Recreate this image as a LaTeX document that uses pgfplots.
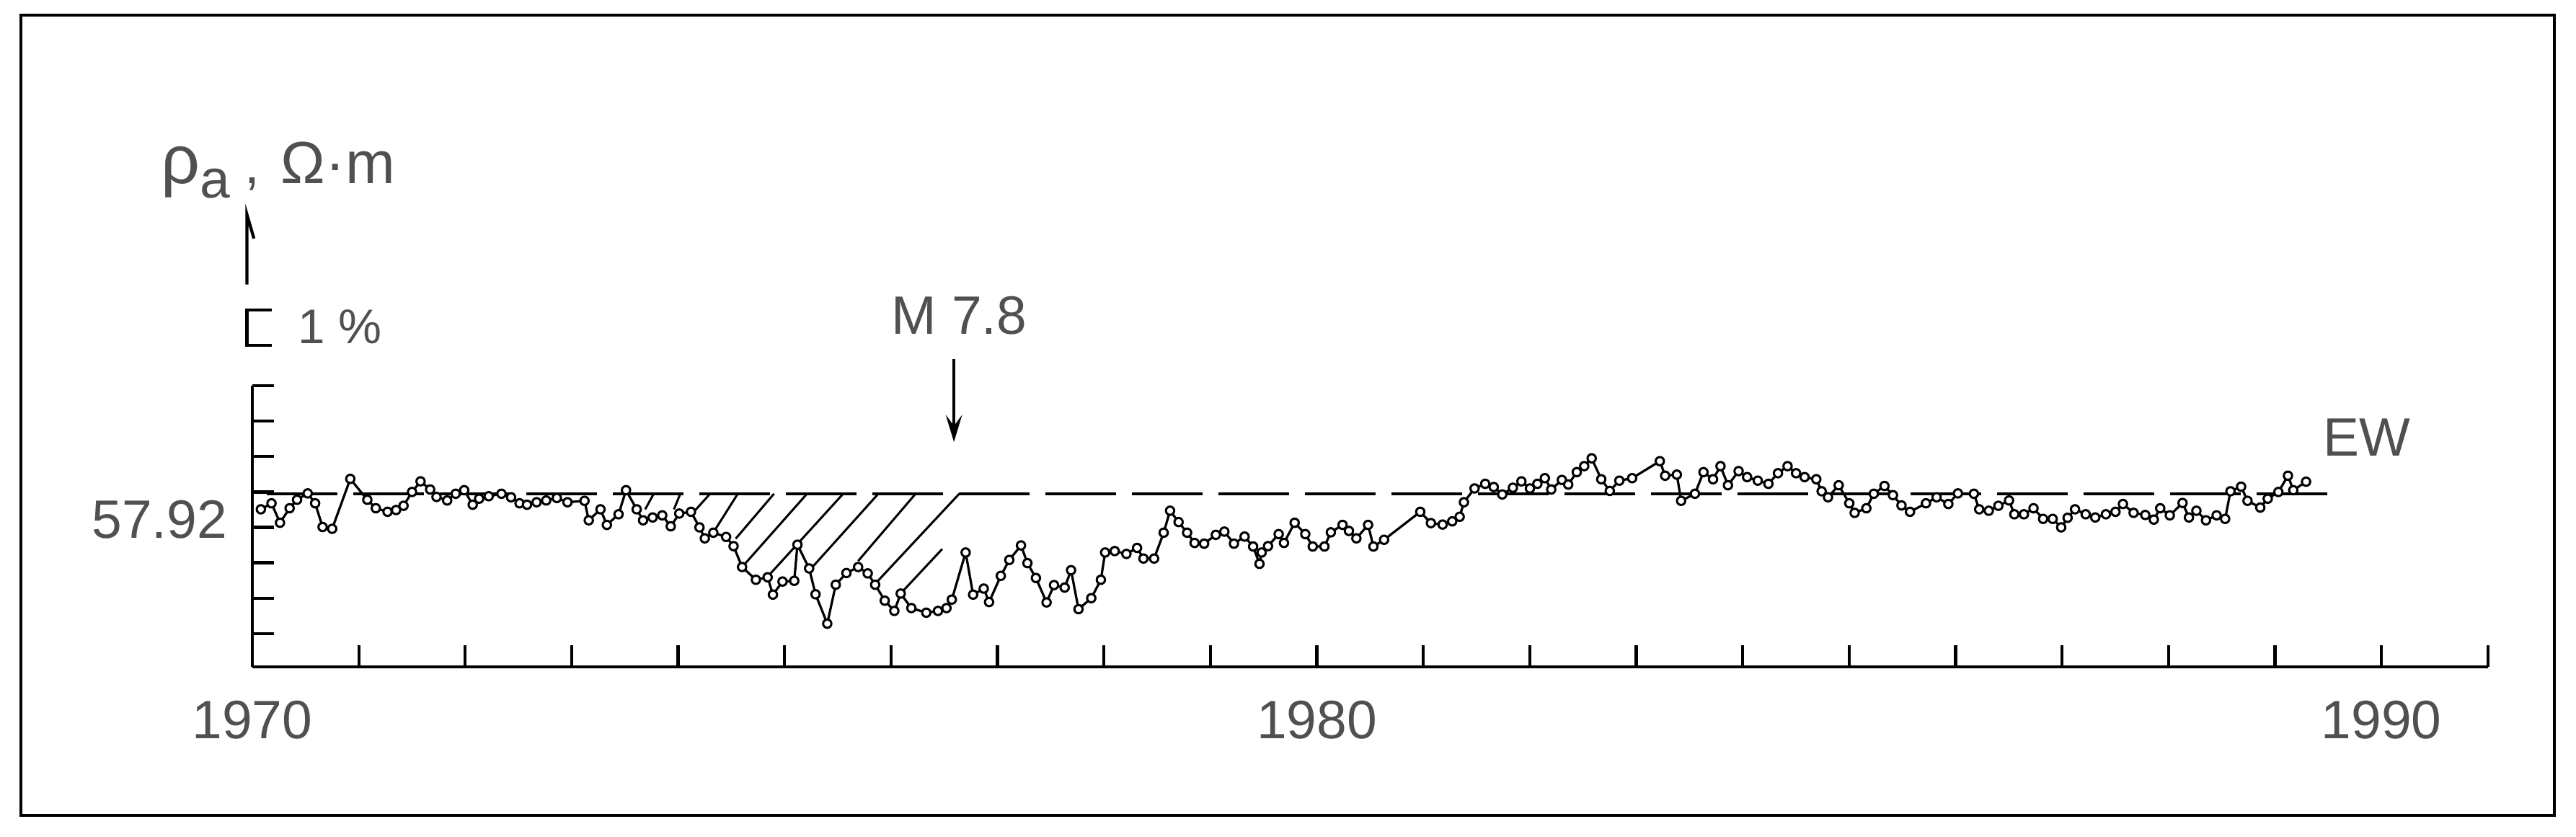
\documentclass[border=0pt]{standalone}
\usepackage{fontspec}
\setmainfont{Liberation Sans}
\usepackage{pgfplots}
\pgfplotsset{compat=1.18}
\usetikzlibrary{arrows.meta}
\definecolor{txt}{RGB}{80,80,80}

\pgfplotstableread{
year rho
1970.08 4.51
1970.18 4.68
1970.26 4.13
1970.35 4.54
1970.42 4.78
1970.52 4.96
1970.59 4.68
1970.66 4.01
1970.75 3.96
1970.92 5.37
1971.08 4.78
1971.16 4.54
1971.27 4.44
1971.35 4.49
1971.42 4.61
1971.50 5.00
1971.58 5.30
1971.67 5.07
1971.73 4.86
1971.83 4.76
1971.91 4.95
1971.99 5.05
1972.07 4.64
1972.13 4.81
1972.22 4.88
1972.34 4.95
1972.43 4.85
1972.51 4.68
1972.58 4.64
1972.67 4.71
1972.76 4.76
1972.86 4.83
1972.96 4.71
1973.12 4.75
1973.16 4.20
1973.27 4.51
1973.33 4.07
1973.44 4.37
1973.51 5.05
1973.61 4.51
1973.67 4.20
1973.76 4.28
1973.85 4.34
1973.93 4.03
1974.01 4.39
1974.12 4.44
1974.20 4.00
1974.25 3.69
1974.33 3.85
1974.45 3.73
1974.52 3.47
1974.60 2.88
1974.73 2.52
1974.84 2.59
1974.89 2.10
1974.98 2.47
1975.09 2.49
1975.12 3.51
1975.23 2.84
1975.29 2.11
1975.40 1.28
1975.48 2.38
1975.58 2.71
1975.69 2.88
1975.78 2.70
1975.85 2.38
1975.94 1.93
1976.03 1.64
1976.09 2.13
1976.19 1.72
1976.33 1.59
1976.44 1.64
1976.52 1.72
1976.57 1.96
1976.70 3.29
1976.77 2.10
1976.87 2.27
1976.92 1.89
1977.03 2.63
1977.11 3.08
1977.22 3.49
1977.28 2.99
1977.36 2.57
1977.46 1.88
1977.53 2.37
1977.63 2.30
1977.69 2.79
1977.76 1.69
1977.88 2.00
1977.97 2.52
1978.01 3.29
1978.10 3.33
1978.21 3.25
1978.31 3.42
1978.37 3.12
1978.47 3.12
1978.56 3.85
1978.62 4.47
1978.70 4.15
1978.78 3.85
1978.85 3.56
1978.94 3.54
1979.05 3.79
1979.13 3.88
1979.22 3.54
1979.32 3.74
1979.40 3.46
1979.46 2.97
1979.48 3.29
1979.54 3.47
1979.64 3.81
1979.69 3.56
1979.79 4.13
1979.89 3.81
1979.96 3.46
1980.07 3.46
1980.13 3.86
1980.24 4.07
1980.30 3.90
1980.37 3.69
1980.48 4.07
1980.53 3.46
1980.63 3.65
1980.97 4.44
1981.07 4.12
1981.18 4.08
1981.27 4.17
1981.34 4.30
1981.38 4.71
1981.48 5.10
1981.58 5.23
1981.66 5.14
1981.74 4.93
1981.84 5.12
1981.92 5.30
1982.00 5.10
1982.07 5.23
1982.14 5.39
1982.20 5.07
1982.30 5.34
1982.36 5.21
1982.44 5.56
1982.51 5.73
1982.58 5.95
1982.67 5.36
1982.75 5.03
1982.84 5.32
1982.96 5.39
1983.22 5.87
1983.27 5.46
1983.38 5.49
1983.42 4.75
1983.55 4.95
1983.63 5.56
1983.72 5.36
1983.79 5.73
1983.86 5.19
1983.96 5.59
1984.04 5.42
1984.14 5.32
1984.24 5.23
1984.33 5.53
1984.42 5.73
1984.50 5.53
1984.58 5.42
1984.69 5.36
1984.74 5.02
1984.80 4.85
1984.90 5.19
1985.00 4.68
1985.05 4.41
1985.16 4.54
1985.23 4.95
1985.33 5.17
1985.41 4.91
1985.49 4.62
1985.57 4.44
1985.72 4.68
1985.82 4.85
1985.93 4.66
1986.02 4.96
1986.17 4.95
1986.22 4.51
1986.31 4.47
1986.40 4.61
1986.50 4.76
1986.55 4.37
1986.64 4.37
1986.73 4.54
1986.82 4.24
1986.91 4.24
1986.99 4.00
1987.05 4.27
1987.12 4.51
1987.22 4.37
1987.31 4.28
1987.41 4.37
1987.50 4.44
1987.57 4.66
1987.67 4.41
1987.78 4.35
1987.86 4.22
1987.92 4.54
1988.01 4.34
1988.13 4.69
1988.19 4.28
1988.26 4.47
1988.35 4.20
1988.45 4.34
1988.53 4.24
1988.58 5.02
1988.68 5.15
1988.74 4.75
1988.86 4.56
1988.93 4.81
1989.03 5.00
1989.12 5.46
1989.17 5.05
1989.29 5.29
}\rhodata

\begin{document}
\begin{tikzpicture}[font=\fontsize{15}{18}\selectfont]
\useasboundingbox (-70pt,-47.2pt) rectangle (644.6pt,185pt);
\draw[line width=0.7pt] (-64.2pt,-41.2pt) rectangle (638.6pt,180.8pt);
\begin{axis}[
  at={(0pt,0pt)}, anchor=south west,
  x=29.534pt, y=9.82pt,
  xmin=1970, xmax=1991, ymin=0.06, ymax=8,
  axis lines*=left,
  axis line style={line width=0.85pt},
  tick align=inside,
  major tick length=6pt,
  tick style={line width=0.85pt, black},
  xtick={1970,...,1991},
  xticklabels={1970,,,,,,,,,,1980,,,,,,,,,,1990,},
  ytick={1,...,8},
  yticklabels={,,,57.92,,,,},
  xticklabel style={anchor=base, inner sep=0pt, yshift=-20pt, text=txt, font=\fontsize{15}{18}\selectfont},
  yticklabel style={anchor=base east, inner sep=0pt, xshift=-6.8pt, yshift=-3pt, text=txt, font=\fontsize{15}{18}\selectfont},
  clip=false,
]
% reference level
\addplot[black, line width=0.8pt, dash pattern=on 19.6pt off 4.4pt] coordinates {(1970.135,4.95) (1989.54,4.95)};
% hatching of the anomaly before the earthquake
\addplot[black, line width=0.6pt, unbounded coords=jump] coordinates {
(1973.69,4.51) (1973.77,4.95) (nan,nan)
(1973.96,4.51) (1974.02,4.95) (nan,nan)
(1974.15,4.45) (1974.30,4.95) (nan,nan)
(1974.35,3.95) (1974.56,4.95) (nan,nan)
(1974.54,3.68) (1974.90,4.95) (nan,nan)
(1974.63,2.98) (1975.21,4.95) (nan,nan)
(1974.85,2.64) (1975.55,4.95) (nan,nan)
(1975.27,2.91) (1975.88,4.95) (nan,nan)
(1975.69,3.05) (1976.23,4.95) (nan,nan)
(1975.87,2.47) (1976.64,4.95) (nan,nan)
(1976.12,2.23) (1976.48,3.39)
};
% apparent resistivity
\addplot[black, line width=0.65pt, mark=*, mark size=1.15pt,
  mark options={fill=white, draw=black, line width=0.6pt, solid}]
  table[x=year, y=rho] {\rhodata};

% earthquake arrow and label
\draw[black, line width=0.85pt, -{Stealth[length=7.5pt,width=4.5pt,inset=3pt]}]
  (axis cs:1976.59,8.75) -- (axis cs:1976.59,6.41);
\node[anchor=base, inner sep=0pt, text=txt] at (axis cs:1976.64,9.46) {M 7.8};
\node[anchor=base, inner sep=0pt, text=txt] at (axis cs:1989.86,6.01) {EW};

% y-axis scale bar and arrow
\draw[black, line width=0.85pt] (axis cs:1969.95,10.86) -- (axis cs:1969.95,12.83) -- (axis cs:1970.015,12.16);
\draw[black, line width=0.85pt] (axis cs:1970.18,10.14) -- (axis cs:1969.95,10.14) -- (axis cs:1969.95,9.14) -- (axis cs:1970.18,9.14);
\node[anchor=base west, inner sep=0pt, text=txt, font=\fontsize{13.5}{16}\selectfont] at (axis cs:1970.42,9.20) {1 \%};
\node[anchor=base west, inner sep=0pt, text=txt] at (axis cs:1969.135,13.71)
  {{\fontsize{19}{19}\selectfont ρ}\raisebox{-4pt}{a}\hspace{4pt},\hspace{6pt}{\fontsize{16.5}{18}\selectfont Ω·m}};
\end{axis}
\end{tikzpicture}
\end{document}
